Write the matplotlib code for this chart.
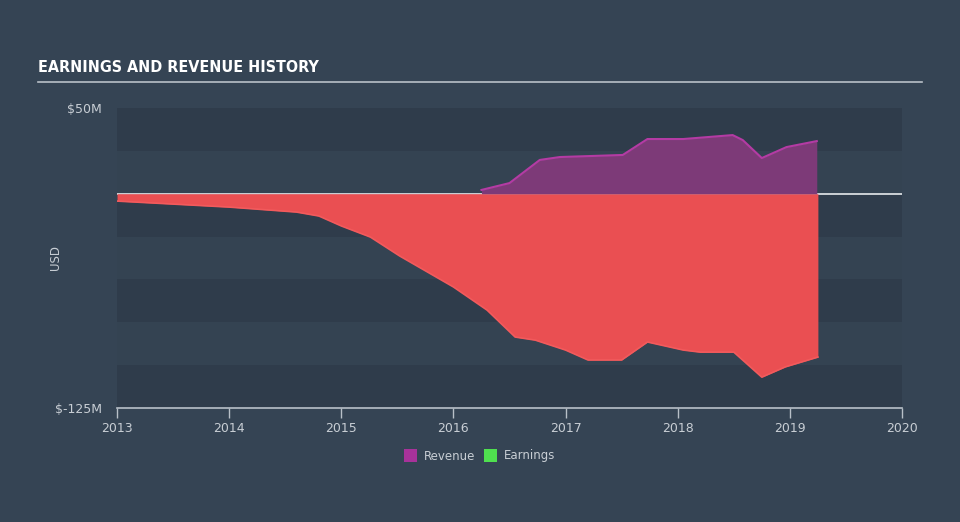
import matplotlib
matplotlib.use('Agg')
from matplotlib import pyplot as plt
from matplotlib.patches import Rectangle

# Values (USD millions)
earn_years = [2013.0, 2014.0, 2014.6, 2014.8, 2015.0, 2015.26, 2015.52, 2016.0,
              2016.3, 2016.55, 2016.73, 2017.0, 2017.2, 2017.5, 2017.73, 2018.05,
              2018.2, 2018.5, 2018.75, 2018.96, 2019.25]
earnings = [-4.3, -7.8, -10.7, -13.0, -18.8, -25.3, -36.3, -54.4,
            -67.9, -83.6, -85.4, -91.2, -97.0, -97.0, -86.5, -91.2,
            -92.4, -92.4, -107.0, -101.0, -95.3]

rev_years = [2016.25, 2016.5, 2016.77, 2016.95, 2017.51, 2017.73, 2018.05,
             2018.49, 2018.58, 2018.75, 2018.97, 2019.24]
revenue = [2.2, 6.2, 19.7, 21.4, 22.6, 31.9, 31.9, 34.2, 31.3, 20.8, 27.2, 30.7]

x_ticks = [2013, 2014, 2015, 2016, 2017, 2018, 2019, 2020]
y_min, y_max = -125, 50

bg = '#354454'
band_dark = '#2f3c4b'
band_light = '#344352'
text_c = '#c8ced4'

fig = plt.figure('history', figsize=(9.6, 5.22), dpi=100, facecolor=bg)
ax = fig.add_axes([117/960, 1-408/522, 785/960, 300/522])
ax.set_facecolor(bg)
ax.set_xlim(2013, 2020)
ax.set_ylim(y_min, y_max)

# alternating horizontal bands
for lo in [25, -25, -75, -125]:
    ax.add_patch(Rectangle((2013, lo), 7, 25, facecolor=band_dark, edgecolor='none', zorder=0))
for lo in [0, -50, -100]:
    ax.add_patch(Rectangle((2013, lo), 7, 25, facecolor=band_light, edgecolor='none', zorder=0))

ax.axhline(0, color='#e6e9ec', lw=1.2, zorder=1)

ax.fill_between(earn_years, earnings, 0, color='#ea4f52', lw=0, zorder=2)
ax.plot(earn_years, earnings, color='#f25a5c', lw=1.2, zorder=3)
ax.fill_between(rev_years, revenue, 0, color='#7d3a78', lw=0, zorder=2)
ax.plot(rev_years, revenue, color='#b43ba4', lw=1.5, zorder=3)

for s in ['top', 'right', 'left']:
    ax.spines[s].set_visible(False)
ax.spines['bottom'].set_color('#b8c0c8')
ax.spines['bottom'].set_linewidth(1.2)

ax.set_xticks(x_ticks)
ax.set_xticklabels([str(t) for t in x_ticks])
ax.tick_params(axis='x', colors='#b8c0c8', length=7, width=1, labelcolor=text_c,
               labelsize=9, pad=3)
ax.set_yticks([y_min, y_max])
ax.set_yticklabels(['$-125M', '$50M'])
ax.tick_params(axis='y', length=0, labelcolor=text_c, labelsize=9, pad=11)
ax.set_ylabel('USD', color=text_c, fontsize=8.5)
ax.yaxis.set_label_coords(-0.07, 0.5)

# title and rule
fig.text(38/960, 1-68/522, 'EARNINGS AND REVENUE HISTORY', color='white',
         fontsize=11.5, fontweight='bold', fontstretch='condensed',
         family=['DejaVu Sans'], va='center', ha='left')
fig.add_artist(plt.Line2D([38/960, 922/960], [1-82/522, 1-82/522], color='#b8c0c8', lw=1.2))

# legend
leg_y = 1-456/522
fig.add_artist(Rectangle((404/960, leg_y-6/522), 13/960, 13/522, facecolor='#a8329a',
                         transform=fig.transFigure))
fig.text(424/960, leg_y, 'Revenue', color=text_c, fontsize=8.5, va='center')
fig.add_artist(Rectangle((484/960, leg_y-6/522), 13/960, 13/522, facecolor='#4fe04f',
                         transform=fig.transFigure))
fig.text(504/960, leg_y, 'Earnings', color=text_c, fontsize=8.5, va='center')

fig.savefig('out.png', dpi=100, facecolor=bg)
